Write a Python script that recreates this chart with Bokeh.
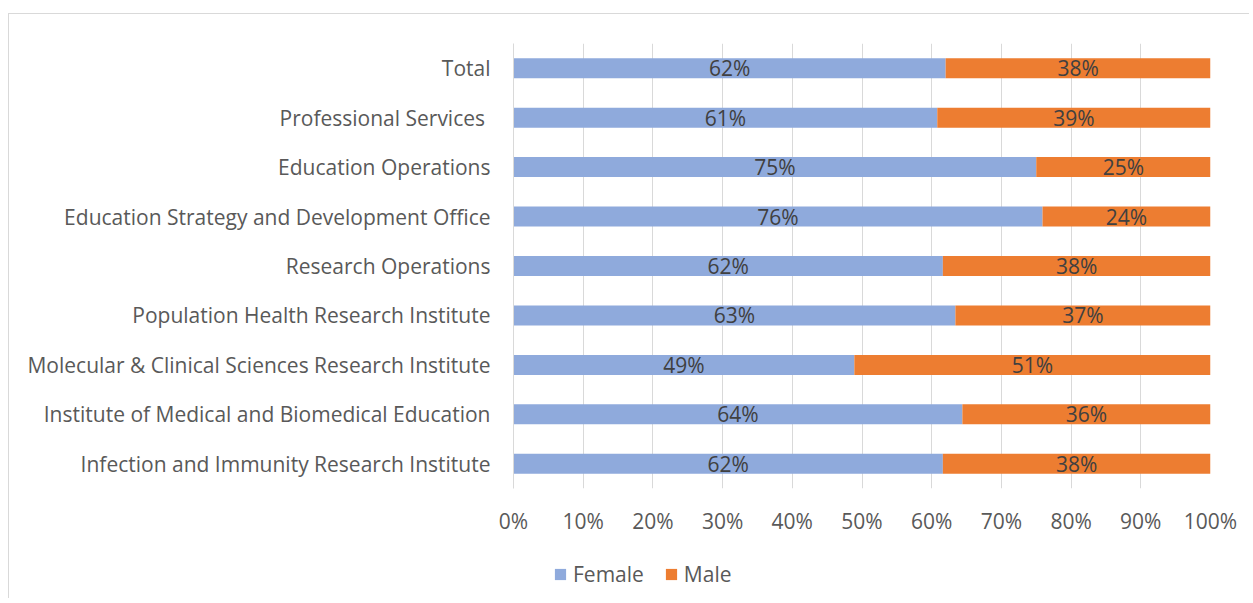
from bokeh.plotting import figure
from bokeh.layouts import column
from bokeh.models import ColumnDataSource, FactorRange, Range1d, NumeralTickFormatter, Legend, LegendItem, FixedTicker
from bokeh.core.properties import value
from bokeh.embed import file_html
from bokeh.resources import INLINE

categories = [
    "Infection and Immunity Research Institute",
    "Institute of Medical and Biomedical Education",
    "Molecular & Clinical Sciences Research Institute",
    "Population Health Research Institute",
    "Research Operations",
    "Education Strategy and Development Office",
    "Education Operations",
    "Professional Services ",
    "Total",
]
female = [0.616, 0.644, 0.489, 0.634, 0.616, 0.759, 0.750, 0.608, 0.620]
male = [round(1 - f, 3) for f in female]
female_labels = ["62%", "64%", "49%", "63%", "62%", "76%", "75%", "61%", "62%"]
male_labels = ["38%", "36%", "51%", "37%", "38%", "24%", "25%", "39%", "38%"]
series = ["Female", "Male"]
x_ticks = [0, 0.1, 0.2, 0.3, 0.4, 0.5, 0.6, 0.7, 0.8, 0.9, 1.0]

FONT = "Open Sans"
FS = "21px"
FEMALE_C = "#8faadc"
MALE_C = "#ed7d31"

src = ColumnDataSource(dict(
    cat=categories,
    female=female,
    male=male,
    total=[f + m for f, m in zip(female, male)],
    fmid=[f / 2 for f in female],
    mmid=[f + m / 2 for f, m in zip(female, male)],
    flab=female_labels,
    mlab=male_labels,
))

p = figure(
    y_range=FactorRange(factors=categories),
    x_range=Range1d(0, 1),
    width=1240, height=534,
    frame_width=697, frame_height=445,
    min_border_left=504, min_border_right=39, min_border_top=29, min_border_bottom=60,
    output_backend="svg", toolbar_location=None,
)
p.outline_line_color = None
p.background_fill_color = "white"
p.border_fill_color = "white"

rf = p.hbar(y="cat", left=0, right="female", height=0.405, source=src, color=FEMALE_C, line_color=None)
rm = p.hbar(y="cat", left="female", right="total", height=0.405, source=src, color=MALE_C, line_color=None)

p.text(x="fmid", y="cat", text="flab", source=src, text_align="center", text_baseline="middle",
       text_font=value(FONT), text_font_size=FS, text_color="#404040")
p.text(x="mmid", y="cat", text="mlab", source=src, text_align="center", text_baseline="middle",
       text_font=value(FONT), text_font_size=FS, text_color="#404040")

p.ygrid.grid_line_color = None
p.xgrid.grid_line_color = "#d9d9d9"
p.xgrid.grid_line_width = 1
p.xgrid.ticker = FixedTicker(ticks=x_ticks)

xa = p.xaxis[0]
xa.ticker = FixedTicker(ticks=x_ticks)
xa.formatter = NumeralTickFormatter(format="0%")
xa.axis_line_color = None
xa.major_tick_line_color = None
xa.minor_tick_line_color = None
xa.major_label_standoff = 12
xa.major_label_text_font = FONT
xa.major_label_text_font_size = FS
xa.major_label_text_color = "#595959"

ya = p.yaxis[0]
ya.axis_line_color = "#d9d9d9"
ya.axis_line_width = 1
ya.major_tick_line_color = None
ya.minor_tick_line_color = None
ya.major_label_standoff = 17
ya.major_label_text_font = FONT
ya.major_label_text_font_size = FS
ya.major_label_text_color = "#595959"

# Legend strip below the chart (its frame is aligned with the chart's frame)
leg = figure(
    width=1240, height=50,
    x_range=Range1d(0, 1), y_range=Range1d(10, 11),
    min_border=0, output_backend="svg", toolbar_location=None,
)
leg.axis.visible = False
leg.grid.visible = False
leg.outline_line_color = None
leg.background_fill_color = "white"
leg.border_fill_color = "white"
# legend-key renderers share the chart data; they fall outside this strip's range
lf = leg.hbar(y="female", left=0, right="female", height=0.5, source=src, color=FEMALE_C, line_color=None)
lm = leg.hbar(y="female", left="female", right="total", height=0.5, source=src, color=MALE_C, line_color=None)

legend = Legend(
    items=[LegendItem(label=series[0], renderers=[lf]), LegendItem(label=series[1], renderers=[lm])],
    orientation="horizontal", location=(40, 10),
    padding=0, margin=0, spacing=20, label_standoff=6,
    glyph_width=14, glyph_height=14,
    border_line_color=None, background_fill_alpha=0,
    label_text_font=FONT, label_text_font_size=FS, label_text_color="#595959",
)
leg.add_layout(legend, "center")

layout = column(
    p, leg,
    styles={"border-top": "1px solid #d9d9d9", "border-left": "1px solid #d9d9d9",
            "margin-top": "13px", "margin-left": "8px"},
)

open("out.html", "w").write(file_html(layout, INLINE))
